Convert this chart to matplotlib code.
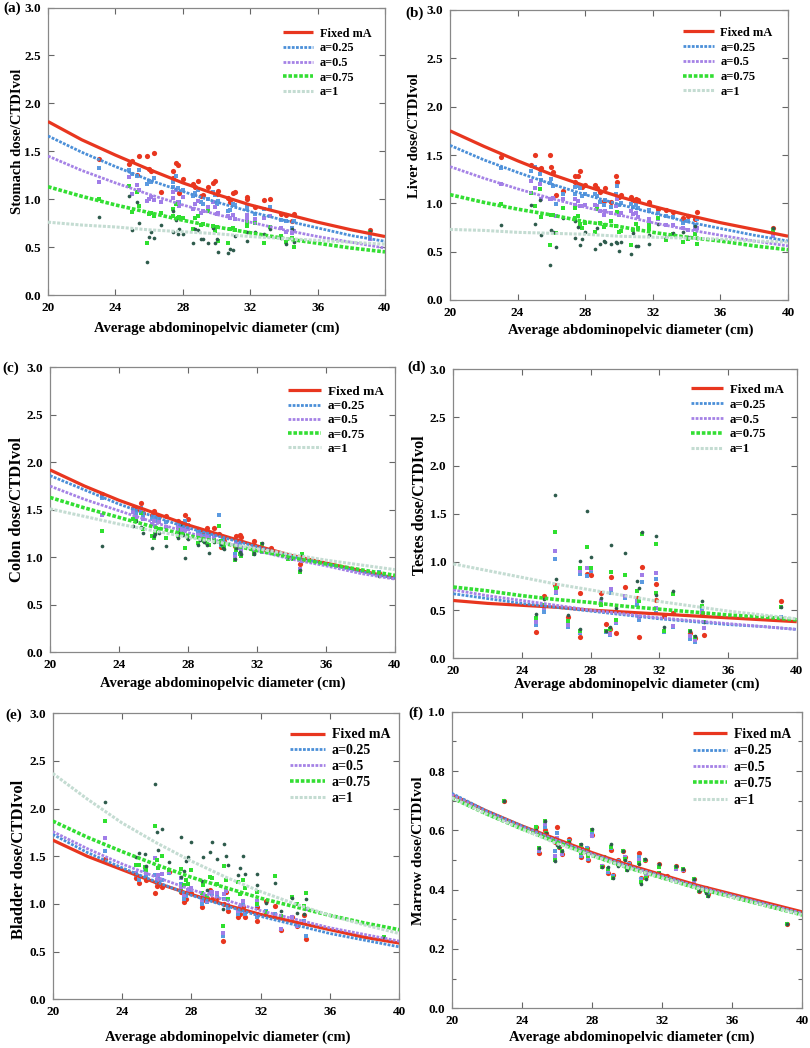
import matplotlib
matplotlib.use("Agg")
import matplotlib.pyplot as plt
from matplotlib.ticker import MultipleLocator

nan = float("nan")

# ---------------- data ----------------
# patient average abdominopelvic diameters (cm)
diameter = [23.0, 24.8, 25.0, 25.3, 25.4, 25.9, 26.0, 26.1, 26.3, 26.7,
            27.4, 27.4, 27.6, 27.7, 27.8, 28.0, 28.6, 28.7, 28.9, 29.1,
            29.2, 29.5, 29.8, 29.9, 30.0, 30.1, 30.7, 30.8, 31.0, 31.1,
            31.8, 31.8, 32.3, 32.8, 33.2, 33.8, 34.1, 34.5, 34.6, 39.1]
# sample diameters for the fitted curves
fit_diameter = [20, 22, 24, 26, 28, 30, 32, 34, 36, 38, 40]

series_labels = ["Fixed mA", "a=0.25", "a=0.5", "a=0.75", "a=1"]

# (a) stomach
stomach_fixed = [1.42, 1.37, 1.40, 1.25, 1.45, 1.45, 1.31, 1.29, 1.48, 1.07,
                 1.29, 1.22, 1.38, 1.36, 1.06, 1.21, 1.16, 1.13, 1.19, 1.03,
                 1.04, 1.13, 1.17, 1.19, 1.05, 1.09, 1.01, 0.97, 1.06, 1.08,
                 1.00, 1.02, 0.92, 0.99, 1.00, 0.85, 0.84, 0.77, 0.85, 0.68]
stomach_a025 = [1.33, 1.30, 1.26, 1.24, 1.30, 1.16, 1.19, 1.18, 1.22, 0.97,
                1.18, 1.13, 1.24, 1.12, 0.97, 1.10, 1.03, 1.06, 1.10, 0.97,
                0.95, 1.00, 1.08, 1.04, 0.95, 0.98, 0.88, 0.89, 0.95, 0.94,
                0.90, 0.92, 0.85, 0.90, 0.92, 0.78, 0.77, 0.70, 0.77, 0.62]
stomach_a05 = [1.18, 1.23, 1.05, 1.15, 1.10, 0.98, 1.00, 1.02, 0.99, 0.97,
               1.08, 1.01, 1.10, 0.97, 0.93, 1.02, 0.90, 0.95, 0.98, 0.86,
               0.88, 0.92, 0.97, 0.92, 0.85, 0.86, 0.82, 0.80, 0.83, 0.79,
               0.80, 0.84, 0.79, 0.80, 0.82, 0.70, 0.66, 0.65, 0.67, 0.58]
stomach_a075 = [1.00, 1.14, 0.87, 1.08, 0.93, 0.54, 0.85, 0.86, 0.82, 0.86,
                0.90, 0.82, 0.95, 0.80, 0.81, 0.80, 0.69, 0.80, 0.82, 0.73,
                0.74, 0.88, 0.72, 0.67, 0.71, 0.56, 0.54, 0.69, 0.70, 0.68,
                0.76, 0.72, 0.75, 0.54, 0.71, 0.62, 0.55, 0.60, 0.50, 0.66]
stomach_a1 = [0.81, 1.03, 0.68, 0.97, 0.75, 0.34, 0.61, 0.66, 0.59, 0.73,
              0.66, 0.88, 0.78, 0.64, 0.69, 0.64, 0.54, 0.69, 0.68, 0.58,
              0.58, 0.54, 0.70, 0.54, 0.58, 0.45, 0.44, 0.48, 0.47, 0.62,
              0.56, 0.66, 0.66, 0.64, 0.69, 0.60, 0.53, 0.69, 0.55, 0.67]
stomach_fit_fixed = [1.81, 1.62, 1.46, 1.31, 1.17, 1.05, 0.94, 0.85, 0.76, 0.68, 0.61]
stomach_fit_a025 = [1.66, 1.49, 1.34, 1.20, 1.08, 0.97, 0.87, 0.78, 0.70, 0.62, 0.56]
stomach_fit_a05 = [1.45, 1.30, 1.17, 1.05, 0.94, 0.84, 0.76, 0.68, 0.61, 0.55, 0.49]
stomach_fit_a075 = [1.13, 1.03, 0.94, 0.86, 0.78, 0.71, 0.65, 0.59, 0.54, 0.49, 0.45]
stomach_fit_a1 = [0.76, 0.73, 0.71, 0.68, 0.66, 0.64, 0.61, 0.59, 0.57, 0.55, 0.53]

# (b) liver
liver_fixed = [1.48, 1.40, 1.50, 1.36, 1.37, 1.50, 1.38, 1.32, 1.09, 1.13,
               1.28, 1.22, 1.28, 1.33, 1.17, 1.19, 1.19, 1.16, 1.12, 1.02,
               1.16, 1.01, 1.28, 1.22, 1.07, 1.09, 1.07, 1.03, 1.05, 1.03,
               1.01, 1.00, 0.94, 0.93, 0.91, 0.85, 0.87, 0.84, 0.91, 0.75]
liver_a025 = [1.37, 1.33, 1.38, 1.30, 1.24, 1.21, 1.25, 1.18, 0.99, 1.10,
              1.17, 1.10, 1.18, 1.16, 1.08, 1.10, 1.10, 1.08, 1.01, 0.98,
              1.03, 0.96, 1.10, 1.18, 0.98, 1.00, 0.99, 0.96, 0.98, 0.95,
              0.93, 0.92, 0.90, 0.87, 0.86, 0.80, 0.82, 0.78, 0.84, 0.72]
liver_a05 = [1.20, 1.23, 1.16, 1.20, 1.04, 1.05, 1.04, 1.06, 0.87, 1.05,
             1.05, 0.98, 1.02, 0.97, 0.97, 0.98, 0.98, 0.97, 0.92, 0.88,
             0.92, 0.90, 0.97, 1.05, 0.88, 0.90, 0.92, 0.89, 0.90, 0.86,
             0.84, 0.82, 0.84, 0.78, 0.78, 0.75, 0.72, 0.73, 0.74, 0.66]
liver_a075 = [0.99, 1.11, 0.97, 1.15, 0.86, 0.57, 0.88, 0.88, 0.69, 0.95,
              0.95, 0.85, 0.87, 0.79, 0.74, 0.80, 0.70, 0.94, 0.80, 0.76,
              0.78, 0.82, 0.77, 0.91, 0.70, 0.71, 0.57, 0.72, 0.79, 0.75,
              0.78, 0.73, 0.85, 0.62, 0.68, 0.60, 0.63, 0.68, 0.58, 0.72]
liver_a1 = [0.78, 0.98, 0.79, 1.03, 0.67, 0.36, 0.72, 0.70, 0.55, 0.85,
            0.64, 0.82, 0.76, 0.57, 0.63, 0.70, 0.53, 0.74, 0.58, 0.61,
            0.60, 0.58, 0.60, 0.59, 0.51, 0.60, 0.48, 0.69, 0.56, 0.56,
            0.58, 0.67, 0.79, 0.65, 0.69, 0.70, 0.65, 0.77, 0.64, 0.74]
liver_fit_fixed = [1.75, 1.59, 1.44, 1.30, 1.18, 1.07, 0.97, 0.88, 0.80, 0.73, 0.66]
liver_fit_a025 = [1.60, 1.45, 1.32, 1.20, 1.09, 0.99, 0.90, 0.81, 0.74, 0.67, 0.61]
liver_fit_a05 = [1.38, 1.26, 1.15, 1.05, 0.96, 0.88, 0.80, 0.73, 0.67, 0.61, 0.56]
liver_fit_a075 = [1.09, 1.01, 0.94, 0.88, 0.81, 0.76, 0.70, 0.65, 0.61, 0.56, 0.52]
liver_fit_a1 = [0.73, 0.72, 0.70, 0.69, 0.68, 0.66, 0.65, 0.64, 0.63, 0.61, 0.60]

# (c) colon
colon_fixed = [1.67, 1.52, 1.50, 1.57, 1.47, 1.45, 1.49, 1.44, 1.43, 1.43,
               1.38, 1.33, 1.36, 1.34, 1.45, 1.40, 1.30, 1.28, 1.25, 1.31,
               1.26, 1.31, 1.25, 1.11, 1.20, 1.17, 1.12, 1.22, 1.23, 1.21,
               1.17, 1.13, 1.08, 1.10, 1.05, 1.01, 1.00, 0.93, 0.97, 0.83]
colon_a025 = [1.62, 1.50, 1.47, 1.52, 1.44, 1.40, 1.42, 1.38, 1.40, 1.37,
              1.35, 1.30, 1.33, 1.30, 1.38, 1.34, 1.27, 1.25, 1.22, 1.27,
              1.22, 1.25, 1.45, 1.13, 1.18, 1.15, 1.03, 1.18, 1.13, 1.10,
              1.12, 1.10, 1.07, 1.07, 1.05, 1.00, 0.99, 0.86, 0.97, 0.85]
colon_a05 = [1.45, 1.48, 1.42, 1.48, 1.40, 1.35, 1.38, 1.33, 1.37, 1.32,
             1.33, 1.27, 1.30, 1.28, 1.30, 1.30, 1.24, 1.22, 1.20, 1.23,
             1.19, 1.22, 1.24, 1.15, 1.15, 1.12, 1.00, 1.15, 1.10, 1.07,
             1.10, 1.07, 1.06, 1.06, 1.04, 0.99, 0.99, 0.88, 0.96, 0.84]
colon_a075 = [1.28, 1.40, 1.38, 1.47, 1.30, 1.22, 1.20, 1.27, 1.30, 1.20,
              1.29, 1.22, 1.26, 1.25, 1.10, 1.20, 1.15, 1.20, 1.17, 1.15,
              1.13, 1.18, 1.33, 1.17, 1.12, 1.10, 0.97, 1.08, 1.03, 1.01,
              1.03, 1.05, 1.14, 1.05, 1.03, 0.98, 0.98, 0.85, 1.03, 0.82]
colon_a1 = [1.12, 1.33, 1.38, 1.32, 1.26, 1.10, 1.22, 1.25, 1.26, 1.12,
            1.26, 1.20, 1.35, 1.23, 0.99, 1.19, 1.13, 1.18, 1.16, 1.13,
            1.05, 1.16, 1.25, 1.14, 1.10, 1.09, 0.98, 1.10, 1.06, 1.04,
            1.05, 1.03, 1.15, 1.08, 1.04, 1.00, 0.99, 0.87, 1.01, 0.80]
colon_fit_fixed = [1.92, 1.75, 1.60, 1.47, 1.34, 1.23, 1.12, 1.02, 0.94, 0.86, 0.78]
colon_fit_a025 = [1.86, 1.71, 1.56, 1.43, 1.31, 1.21, 1.11, 1.01, 0.93, 0.85, 0.78]
colon_fit_a05 = [1.75, 1.61, 1.49, 1.37, 1.26, 1.16, 1.07, 0.98, 0.91, 0.83, 0.77]
colon_fit_a075 = [1.63, 1.52, 1.42, 1.32, 1.23, 1.15, 1.07, 1.00, 0.93, 0.87, 0.81]
colon_fit_a1 = [1.51, 1.43, 1.35, 1.28, 1.21, 1.15, 1.09, 1.03, 0.97, 0.92, 0.87]

# (d) testes (male patients only)
testes_fixed = [nan, 0.27, nan, 0.65, nan, 0.76, 0.74, nan, nan, 0.43,
                0.68, 0.22, nan, nan, 0.87, 0.86, 0.68, nan, 0.36, 0.30,
                0.84, 0.26, nan, nan, 0.74, nan, 0.63, 0.22, 0.95, nan,
                0.77, 0.61, 0.44, 0.47, nan, 0.26, 0.21, 0.47, 0.24, 0.60]
testes_a025 = [nan, 0.35, nan, 0.48, nan, 1.03, 0.68, nan, nan, 0.32,
               0.88, 0.26, nan, nan, 0.85, 0.91, 0.60, nan, 0.27, 0.24,
               0.68, 0.37, nan, nan, 0.63, nan, 0.55, 0.40, 0.79, nan,
               0.82, 0.47, 0.27, 0.33, nan, 0.20, 0.17, 0.51, 0.31, 0.43]
testes_a05 = [nan, 0.38, nan, 0.52, nan, 1.11, 0.69, nan, nan, 0.35,
              0.91, 0.27, nan, nan, 0.94, 0.93, 0.60, nan, 0.28, 0.25,
              0.72, 0.38, nan, nan, 0.65, nan, 0.60, 0.43, 0.86, nan,
              0.89, 0.52, 0.28, 0.34, nan, 0.23, 0.19, 0.48, 0.31, 0.42]
testes_a075 = [nan, 0.42, nan, 0.55, nan, 1.31, 0.73, nan, nan, 0.39,
               0.94, 0.28, nan, nan, 1.16, 0.94, 0.55, nan, 0.28, 0.30,
               0.90, 0.40, nan, nan, 0.86, nan, 0.70, 0.60, 1.29, nan,
               1.19, 0.68, 0.28, 0.67, nan, 0.28, 0.22, 0.54, 0.38, 0.53]
testes_a1 = [nan, 0.46, nan, 0.62, nan, 1.70, 0.82, nan, nan, 0.45,
             1.01, 0.30, nan, nan, 1.53, 1.05, 0.63, nan, 0.28, 0.33,
             1.18, 0.52, nan, nan, 1.09, nan, 0.80, 0.73, 1.31, nan,
             1.27, 0.66, 0.33, 0.70, nan, 0.28, 0.23, 0.60, 0.38, 0.53]
testes_fit_fixed = [0.60, 0.57, 0.55, 0.53, 0.50, 0.48, 0.46, 0.44, 0.42, 0.40, 0.38]
testes_fit_a025 = [0.67, 0.62, 0.57, 0.53, 0.49, 0.45, 0.41, 0.38, 0.35, 0.33, 0.30]
testes_fit_a05 = [0.71, 0.65, 0.60, 0.55, 0.50, 0.46, 0.42, 0.39, 0.36, 0.33, 0.30]
testes_fit_a075 = [0.74, 0.70, 0.65, 0.61, 0.58, 0.54, 0.51, 0.48, 0.45, 0.43, 0.40]
testes_fit_a1 = [0.98, 0.91, 0.84, 0.77, 0.71, 0.65, 0.59, 0.54, 0.49, 0.45, 0.41]

# (e) bladder
bladder_fixed = [1.47, 1.27, 1.22, 1.39, 1.25, 1.12, 1.19, 1.22, 1.18, 1.34,
                 1.13, 1.20, 1.02, 1.05, 1.13, 1.12, 0.97, 1.04, 1.06, 1.15,
                 1.05, 1.06, 0.61, 1.00, 1.13, 0.93, 0.86, 0.90, 0.97, 0.86,
                 0.82, 0.97, 1.03, 0.98, 0.73, 0.86, 0.77, 0.88, 0.63, 0.63]
bladder_a025 = [1.56, 1.30, 1.25, 1.36, 1.28, 1.30, 1.22, 1.26, 1.25, 1.33,
                1.21, 1.17, 1.05, 1.08, 1.13, 1.15, 1.00, 1.06, 1.02, 1.12,
                1.10, 1.08, 0.66, 1.05, 1.14, 0.96, 0.89, 0.93, 1.00, 0.89,
                0.86, 0.99, 0.93, 0.90, 0.74, 0.86, 0.78, 0.82, 0.66, 0.63]
bladder_a05 = [1.69, 1.33, 1.29, 1.38, 1.32, 1.48, 1.25, 1.30, 1.31, 1.34,
               1.27, 1.16, 1.09, 1.12, 1.15, 1.17, 1.04, 1.08, 1.03, 1.13,
               1.13, 1.11, 0.70, 1.10, 1.14, 0.99, 0.93, 0.97, 1.03, 0.93,
               0.90, 1.03, 0.90, 0.86, 0.74, 0.86, 0.77, 0.80, 0.95, 0.64]
bladder_a075 = [1.87, 1.41, 1.41, 1.39, 1.36, 1.82, 1.46, 1.38, 1.50, 1.36,
                1.37, 1.14, 1.20, 1.25, 1.21, 1.36, 1.11, 1.20, 1.08, 1.28,
                1.27, 1.21, 0.77, 1.40, 1.25, 1.05, 1.23, 1.10, 1.25, 1.17,
                1.13, 1.00, 0.92, 1.29, 0.87, 1.07, 1.00, 0.98, 1.11, 0.65]
bladder_a1 = [2.07, 1.49, 1.53, 1.52, 1.40, 2.26, 1.76, 1.57, 1.79, 1.44,
              1.70, 1.28, 1.35, 1.45, 1.49, 1.65, 1.24, 1.49, 1.15, 1.55,
              1.65, 1.47, 0.95, 1.63, 1.50, 1.41, 1.30, 1.38, 1.50, 1.31,
              1.31, 1.20, 1.01, 1.22, 0.93, 1.06, 0.91, 0.89, 1.05, 0.64]
bladder_fit_fixed = [1.67, 1.50, 1.36, 1.22, 1.10, 0.99, 0.89, 0.81, 0.73, 0.65, 0.59]
bladder_fit_a025 = [1.73, 1.54, 1.38, 1.23, 1.09, 0.98, 0.87, 0.78, 0.69, 0.62, 0.55]
bladder_fit_a05 = [1.76, 1.58, 1.42, 1.28, 1.15, 1.04, 0.93, 0.84, 0.75, 0.68, 0.61]
bladder_fit_a075 = [1.87, 1.70, 1.55, 1.41, 1.28, 1.17, 1.06, 0.97, 0.88, 0.80, 0.73]
bladder_fit_a1 = [2.37, 2.10, 1.85, 1.64, 1.45, 1.28, 1.13, 1.00, 0.88, 0.78, 0.69]

# (f) marrow
marrow_fixed = [0.70, 0.61, 0.525, 0.60, 0.59, 0.56, 0.61, 0.545, 0.52, 0.57,
                0.51, 0.54, 0.53, 0.54, 0.50, 0.585, 0.48, 0.51, 0.455, 0.535,
                0.45, 0.50, 0.53, 0.51, 0.475, 0.49, 0.525, 0.44, 0.50, 0.445,
                0.485, 0.45, 0.445, 0.48, 0.465, 0.435, 0.395, 0.405, 0.385, 0.285]
marrow_a025 = [0.70, 0.61, 0.53, 0.61, 0.59, 0.53, 0.59, 0.545, 0.52, 0.565,
               0.515, 0.545, 0.53, 0.54, 0.505, 0.59, 0.48, 0.51, 0.46, 0.54,
               0.445, 0.495, 0.53, 0.51, 0.47, 0.485, 0.51, 0.435, 0.50, 0.45,
               0.48, 0.455, 0.44, 0.475, 0.465, 0.435, 0.395, 0.40, 0.385, 0.285]
marrow_a05 = [0.70, 0.61, 0.535, 0.62, 0.59, 0.515, 0.575, 0.545, 0.52, 0.56,
              0.52, 0.55, 0.53, 0.535, 0.51, 0.58, 0.48, 0.51, 0.465, 0.545,
              0.44, 0.49, 0.53, 0.51, 0.47, 0.48, 0.50, 0.43, 0.50, 0.45,
              0.48, 0.455, 0.44, 0.47, 0.465, 0.43, 0.395, 0.40, 0.38, 0.285]
marrow_a075 = [0.70, 0.61, 0.54, 0.63, 0.59, 0.50, 0.56, 0.545, 0.53, 0.56,
               0.525, 0.55, 0.53, 0.535, 0.515, 0.60, 0.475, 0.51, 0.47, 0.545,
               0.44, 0.485, 0.53, 0.505, 0.465, 0.48, 0.49, 0.425, 0.50, 0.44,
               0.475, 0.455, 0.44, 0.475, 0.47, 0.435, 0.395, 0.395, 0.38, 0.285]
marrow_a1 = [0.70, 0.60, 0.54, 0.63, 0.59, 0.495, 0.55, 0.545, 0.53, 0.56,
             0.53, 0.555, 0.53, 0.53, 0.52, 0.605, 0.475, 0.51, 0.475, 0.555,
             0.44, 0.48, 0.53, 0.50, 0.465, 0.475, 0.485, 0.42, 0.505, 0.435,
             0.485, 0.455, 0.44, 0.48, 0.47, 0.435, 0.395, 0.39, 0.38, 0.285]
marrow_fit_fixed = [0.72, 0.665, 0.615, 0.57, 0.525, 0.485, 0.45, 0.415, 0.385, 0.355, 0.325]
marrow_fit_a025 = [0.725, 0.665, 0.615, 0.565, 0.52, 0.48, 0.445, 0.41, 0.38, 0.35, 0.32]
marrow_fit_a05 = [0.72, 0.66, 0.61, 0.565, 0.52, 0.48, 0.445, 0.41, 0.38, 0.35, 0.32]
marrow_fit_a075 = [0.71, 0.655, 0.605, 0.56, 0.515, 0.475, 0.44, 0.405, 0.375, 0.345, 0.315]
marrow_fit_a1 = [0.71, 0.655, 0.605, 0.555, 0.515, 0.475, 0.44, 0.405, 0.375, 0.345, 0.315]

# ---------------- style ----------------
plt.rcParams["font.family"] = ["Liberation Serif", "DejaVu Serif"]
plt.rcParams["font.weight"] = "bold"
plt.rcParams["axes.labelweight"] = "bold"

line_colors = ["#e8361f", "#4b8fd8", "#a582e6", "#33de33", "#c4dcd2"]
point_colors = ["#e8361f", "#5b9ae0", "#a07de8", "#2fe02f", "#2e5b4c"]
point_markers = ["o", "s", "s", "s", "o"]
point_sizes = [14, 7, 12, 12, 7]
line_styles = ["-", (0, (1.0, 0.5)), (0, (1.0, 0.5)), (0, (1.0, 0.5)), (0, (1.0, 0.5))]
line_widths = [2.3, 2.0, 2.0, 2.6, 2.2]

W, H = 810, 1048
fig = plt.figure(figsize=(W / 100, H / 100), dpi=100)

panels = [
    dict(letter="(a)", ylabel="Stomach dose/CTDIvol",
         pts=[stomach_fixed, stomach_a025, stomach_a05, stomach_a075, stomach_a1],
         fits=[stomach_fit_fixed, stomach_fit_a025, stomach_fit_a05, stomach_fit_a075, stomach_fit_a1],
         box=(48, 7.5, 385, 295), ytop=3.0, ystep=0.5, letpos=(3, 8),
         ylab=(-0.071, 0.533, 10.5), xlab=(0.5, -0.092), leg=(0.697, 0.93, 8.8, 0.22)),
    dict(letter="(b)", ylabel="Liver dose/CTDIvol",
         pts=[liver_fixed, liver_a025, liver_a05, liver_a075, liver_a1],
         fits=[liver_fit_fixed, liver_fit_a025, liver_fit_a05, liver_fit_a075, liver_fit_a1],
         box=(450, 10, 788, 300), ytop=3.0, ystep=0.5, letpos=(405, 13),
         ylab=(-0.086, 0.566, 10.5), xlab=(0.535, -0.081), leg=(0.689, 0.942, 9.0, 0.22)),
    dict(letter="(c)", ylabel="Colon dose/CTDIvol",
         pts=[colon_fixed, colon_a025, colon_a05, colon_a075, colon_a1],
         fits=[colon_fit_fixed, colon_fit_a025, colon_fit_a05, colon_fit_a075, colon_fit_a1],
         box=(50, 367.3, 395, 652.3), ytop=3.0, ystep=0.5, letpos=(2, 368),
         ylab=(-0.072, 0.5, 12), xlab=(0.5, -0.085), leg=(0.69, 0.935, 9.5, 0.15)),
    dict(letter="(d)", ylabel="Testes dose/CTDIvol",
         pts=[testes_fixed, testes_a025, testes_a05, testes_a075, testes_a1],
         fits=[testes_fit_fixed, testes_fit_a025, testes_fit_a05, testes_fit_a075, testes_fit_a1],
         box=(453.3, 369.3, 796.7, 658.3), ytop=3.0, ystep=0.5, letpos=(407, 367),
         ylab=(-0.075, 0.53, 11.5), xlab=(0.535, -0.066), leg=(0.692, 0.95, 9.3, 0.22)),
    dict(letter="(e)", ylabel="Bladder dose/CTDIvol",
         pts=[bladder_fixed, bladder_a025, bladder_a05, bladder_a075, bladder_a1],
         fits=[bladder_fit_fixed, bladder_fit_a025, bladder_fit_a05, bladder_fit_a075, bladder_fit_a1],
         box=(52.7, 713.3, 399.3, 999.3), ytop=3.0, ystep=0.5, letpos=(5, 715),
         ylab=(-0.073, 0.49, 12), xlab=(0.505, -0.109), leg=(0.685, 0.947, 10, 0.2)),
    dict(letter="(f)", ylabel="Marrow dose/CTDIvol",
         pts=[marrow_fixed, marrow_a025, marrow_a05, marrow_a075, marrow_a1],
         fits=[marrow_fit_fixed, marrow_fit_a025, marrow_fit_a05, marrow_fit_a075, marrow_fit_a1],
         box=(451.7, 711.7, 802.3, 1008.3), ytop=1.0, ystep=0.2, letpos=(408, 713),
         ylab=(-0.075, 0.53, 11), xlab=(0.513, -0.075), leg=(0.688, 0.945, 9.8, 0.25)),
]

for p in panels:
    l, t, r, b = p["box"]
    ax = fig.add_axes([l / W, 1 - b / H, (r - l) / W, (b - t) / H])
    for k in range(5):
        ax.scatter(diameter, p["pts"][k], s=point_sizes[k], marker=point_markers[k],
                   color=point_colors[k], linewidths=0, zorder=2)
    for k in range(5):
        ax.plot(fit_diameter, p["fits"][k], color=line_colors[k], linestyle=line_styles[k],
                lw=line_widths[k], label=series_labels[k], zorder=3,
                solid_capstyle="butt", dash_capstyle="butt")
    ax.set_xlim(20, 40)
    ax.set_ylim(0, p["ytop"])
    ax.xaxis.set_major_locator(MultipleLocator(4))
    ax.yaxis.set_major_locator(MultipleLocator(p["ystep"]))
    if p["ytop"] == 1.0:
        ax.yaxis.set_minor_locator(MultipleLocator(0.1))
        ax.tick_params(which="minor", direction="in", left=True, right=True,
                       length=3, width=0.8, color="#666666")
    ax.tick_params(which="major", direction="in", top=True, right=True,
                   length=4, width=0.8, color="#666666", labelsize=9.5, pad=5)
    ax.set_xticks(ax.get_xticks())
    ax.set_xticklabels([f"{int(v)}" for v in ax.get_xticks()])
    ax.set_yticks(ax.get_yticks())
    ax.set_yticklabels([f"{v:.1f}" for v in ax.get_yticks()])
    ax.set_xlim(20, 40)
    ax.set_ylim(0, p["ytop"])
    for lab in ax.get_xticklabels() + ax.get_yticklabels():
        lab.set_fontweight("bold")
    for sp in ax.spines.values():
        sp.set_color("#888888")
        sp.set_linewidth(0.9)
    ylx, yly, ylfs = p["ylab"]
    ax.set_ylabel(p["ylabel"], fontsize=ylfs, fontweight="bold")
    ax.yaxis.set_label_coords(ylx, yly)
    xlx, xly = p["xlab"]
    ax.set_xlabel("Average abdominopelvic diameter (cm)", fontsize=10.5, fontweight="bold")
    ax.xaxis.set_label_coords(xlx, xly)
    lx, ly, lfs, lsp = p["leg"]
    ax.legend(loc="upper left", bbox_to_anchor=(lx, ly), frameon=False,
              handlelength=2.5, handletextpad=0.5, labelspacing=lsp,
              borderpad=0, borderaxespad=0, prop=dict(weight="bold", size=lfs))
    fig.text(p["letpos"][0] / W, 1 - p["letpos"][1] / H, p["letter"], fontsize=11,
             fontweight="bold", ha="left", va="center")

fig.savefig("out.png", dpi=100)
